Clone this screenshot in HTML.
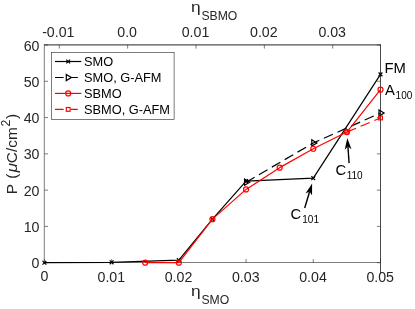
<!DOCTYPE html>
<html><head><meta charset="utf-8"><style>
html,body{margin:0;padding:0;background:#fff;}
svg{display:block;will-change:transform;}
text{font-family:"Liberation Sans",sans-serif;fill:#262626;}
.tk{font-size:14.2px;}
.lg{font-size:12.8px;fill:#000;}
.ax{font-size:15.4px;}
.sup{font-size:12.2px;}
.eta{font-size:13.9px;}
.sub{font-size:12.2px;}
.an{font-size:14.8px;fill:#000;}
.ans{font-size:10px;fill:#000;}
</style></head><body>
<svg width="415" height="309" viewBox="0 0 415 309">
<rect width="415" height="309" fill="#fff"/>
<line x1="44.3" y1="44.7" x2="44.3" y2="263.0" stroke="#262626" stroke-width="0.6"/>
<line x1="44.0" y1="262.5" x2="380.5" y2="262.5" stroke="#262626" stroke-width="0.6"/>
<line x1="44.0" y1="44.85" x2="380.8" y2="44.85" stroke="#505050" stroke-width="1.2"/>
<line x1="380.5" y1="44.5" x2="380.5" y2="274" stroke="#1c1c1c" stroke-width="0.8"/>
<line x1="44.40" y1="262.7" x2="44.40" y2="259.10" stroke="#262626" stroke-width="0.6"/>
<text x="44.40" y="281.4" text-anchor="middle" class="tk">0</text>
<line x1="111.62" y1="262.7" x2="111.62" y2="259.10" stroke="#262626" stroke-width="0.6"/>
<text x="111.32" y="281.7" text-anchor="middle" class="tk">0.01</text>
<line x1="178.84" y1="262.7" x2="178.84" y2="259.10" stroke="#262626" stroke-width="0.6"/>
<text x="178.54" y="281.7" text-anchor="middle" class="tk">0.02</text>
<line x1="246.06" y1="262.7" x2="246.06" y2="259.10" stroke="#262626" stroke-width="0.6"/>
<text x="245.76" y="281.7" text-anchor="middle" class="tk">0.03</text>
<line x1="313.28" y1="262.7" x2="313.28" y2="259.10" stroke="#262626" stroke-width="0.6"/>
<text x="312.98" y="281.7" text-anchor="middle" class="tk">0.04</text>
<line x1="380.50" y1="262.7" x2="380.50" y2="259.10" stroke="#262626" stroke-width="0.6"/>
<text x="380.20" y="281.7" text-anchor="middle" class="tk">0.05</text>
<line x1="59.30" y1="45.0" x2="59.30" y2="48.60" stroke="#262626" stroke-width="0.6"/>
<text x="58.30" y="37.3" text-anchor="middle" class="tk">-0.01</text>
<line x1="127.65" y1="45.0" x2="127.65" y2="48.60" stroke="#262626" stroke-width="0.6"/>
<text x="127.15" y="37.3" text-anchor="middle" class="tk">0.0</text>
<line x1="196.00" y1="45.0" x2="196.00" y2="48.60" stroke="#262626" stroke-width="0.6"/>
<text x="195.50" y="37.3" text-anchor="middle" class="tk">0.01</text>
<line x1="264.35" y1="45.0" x2="264.35" y2="48.60" stroke="#262626" stroke-width="0.6"/>
<text x="263.85" y="37.3" text-anchor="middle" class="tk">0.02</text>
<line x1="332.70" y1="45.0" x2="332.70" y2="48.60" stroke="#262626" stroke-width="0.6"/>
<text x="332.20" y="37.3" text-anchor="middle" class="tk">0.03</text>
<line x1="44.4" y1="262.70" x2="48.00" y2="262.70" stroke="#262626" stroke-width="0.6"/>
<line x1="380.5" y1="262.70" x2="376.90" y2="262.70" stroke="#262626" stroke-width="0.6"/>
<text x="39.5" y="267.80" text-anchor="end" class="tk">0</text>
<line x1="44.4" y1="226.42" x2="48.00" y2="226.42" stroke="#262626" stroke-width="0.6"/>
<line x1="380.5" y1="226.42" x2="376.90" y2="226.42" stroke="#262626" stroke-width="0.6"/>
<text x="39.5" y="231.92" text-anchor="end" class="tk">10</text>
<line x1="44.4" y1="190.13" x2="48.00" y2="190.13" stroke="#262626" stroke-width="0.6"/>
<line x1="380.5" y1="190.13" x2="376.90" y2="190.13" stroke="#262626" stroke-width="0.6"/>
<text x="39.5" y="195.63" text-anchor="end" class="tk">20</text>
<line x1="44.4" y1="153.85" x2="48.00" y2="153.85" stroke="#262626" stroke-width="0.6"/>
<line x1="380.5" y1="153.85" x2="376.90" y2="153.85" stroke="#262626" stroke-width="0.6"/>
<text x="39.5" y="159.00" text-anchor="end" class="tk">30</text>
<line x1="44.4" y1="117.57" x2="48.00" y2="117.57" stroke="#262626" stroke-width="0.6"/>
<line x1="380.5" y1="117.57" x2="376.90" y2="117.57" stroke="#262626" stroke-width="0.6"/>
<text x="39.5" y="122.87" text-anchor="end" class="tk">40</text>
<line x1="44.4" y1="81.28" x2="48.00" y2="81.28" stroke="#262626" stroke-width="0.6"/>
<line x1="380.5" y1="81.28" x2="376.90" y2="81.28" stroke="#262626" stroke-width="0.6"/>
<text x="39.5" y="86.98" text-anchor="end" class="tk">50</text>
<line x1="44.4" y1="45.00" x2="48.00" y2="45.00" stroke="#262626" stroke-width="0.6"/>
<line x1="380.5" y1="45.00" x2="376.90" y2="45.00" stroke="#262626" stroke-width="0.6"/>
<text x="39.5" y="50.80" text-anchor="end" class="tk">60</text>
<polyline points="44.40,262.70 111.62,262.34 178.84,260.16 212.45,219.16 246.06,181.06 313.28,178.16 380.50,74.39" fill="none" stroke="#000" stroke-width="1.2" stroke-linejoin="round"/>
<path d="M42.50,260.80L46.30,264.60M42.50,264.60L46.30,260.80" stroke="#000" stroke-width="1.2" fill="none"/>
<path d="M109.72,260.44L113.52,264.24M109.72,264.24L113.52,260.44" stroke="#000" stroke-width="1.2" fill="none"/>
<path d="M176.94,258.26L180.74,262.06M176.94,262.06L180.74,258.26" stroke="#000" stroke-width="1.2" fill="none"/>
<path d="M210.55,217.26L214.35,221.06M210.55,221.06L214.35,217.26" stroke="#000" stroke-width="1.2" fill="none"/>
<path d="M244.16,179.16L247.96,182.96M244.16,182.96L247.96,179.16" stroke="#000" stroke-width="1.2" fill="none"/>
<path d="M311.38,176.26L315.18,180.06M311.38,180.06L315.18,176.26" stroke="#000" stroke-width="1.2" fill="none"/>
<path d="M378.60,72.49L382.40,76.29M378.60,76.29L382.40,72.49" stroke="#000" stroke-width="1.2" fill="none"/>
<polyline points="246.06,182.15 313.28,142.96 380.50,113.03" fill="none" stroke="#000" stroke-width="1.2" stroke-dasharray="9.9,5.0"/>
<path d="M244.56,179.05L249.66,182.15L244.56,185.25Z" stroke="#000" stroke-width="1.2" fill="none"/>
<path d="M311.78,139.86L316.88,142.96L311.78,146.06Z" stroke="#000" stroke-width="1.2" fill="none"/>
<path d="M379.00,109.93L384.10,113.03L379.00,116.13Z" stroke="#000" stroke-width="1.2" fill="none"/>
<polyline points="145.23,262.70 178.84,262.70 212.45,219.16 246.06,189.41 279.67,167.64 313.28,148.77 346.89,132.08 380.50,89.63" fill="none" stroke="#f00" stroke-width="1.2" stroke-linejoin="round"/>
<circle cx="145.23" cy="262.70" r="2.5" stroke="#f00" stroke-width="1.2" fill="none"/>
<circle cx="178.84" cy="262.70" r="2.5" stroke="#f00" stroke-width="1.2" fill="none"/>
<circle cx="212.45" cy="219.16" r="2.5" stroke="#f00" stroke-width="1.2" fill="none"/>
<circle cx="246.06" cy="189.41" r="2.5" stroke="#f00" stroke-width="1.2" fill="none"/>
<circle cx="279.67" cy="167.64" r="2.5" stroke="#f00" stroke-width="1.2" fill="none"/>
<circle cx="313.28" cy="148.77" r="2.5" stroke="#f00" stroke-width="1.2" fill="none"/>
<circle cx="346.89" cy="132.08" r="2.5" stroke="#f00" stroke-width="1.2" fill="none"/>
<circle cx="380.50" cy="89.63" r="2.5" stroke="#f00" stroke-width="1.2" fill="none"/>
<polyline points="346.89,132.08 380.50,117.93" fill="none" stroke="#f00" stroke-width="1.2" stroke-dasharray="9.9,5.0"/>
<rect x="344.99" y="130.18" width="3.8" height="3.8" stroke="#f00" stroke-width="1.15" fill="none"/>
<rect x="378.60" y="116.03" width="3.8" height="3.8" stroke="#f00" stroke-width="1.15" fill="none"/>
<rect x="51.4" y="52.3" width="122.70" height="67.30" fill="#fff" stroke="#262626" stroke-width="0.6"/>
<line x1="55" y1="61.5" x2="81.3" y2="61.5" stroke="#000" stroke-width="1.2"/>
<path d="M66.30,59.60L70.10,63.40M66.30,63.40L70.10,59.60" stroke="#000" stroke-width="1.2" fill="none"/>
<text x="84.0" y="66.3" class="lg">SMO</text>
<path d="M55,77.5H63.6M70.8,77.5H77.8" stroke="#000" stroke-width="1.2" fill="none"/>
<path d="M66.30,74.40L71.40,77.50L66.30,80.60Z" stroke="#000" stroke-width="1.2" fill="none"/>
<text x="84.0" y="82.4" class="lg">SMO, G-AFM</text>
<line x1="55" y1="93.4" x2="81.3" y2="93.4" stroke="#f00" stroke-width="1.2"/>
<circle cx="68.20" cy="93.40" r="2.5" stroke="#f00" stroke-width="1.2" fill="none"/>
<text x="84.0" y="98.0" class="lg">SBMO</text>
<path d="M55,109.4H63.6M70.8,109.4H77.8" stroke="#f00" stroke-width="1.2" fill="none"/>
<rect x="66.30" y="107.50" width="3.8" height="3.8" stroke="#f00" stroke-width="1.15" fill="none"/>
<text x="84.0" y="113.7" class="lg">SBMO, G-AFM</text>
<text transform="translate(191.0,295.8) scale(1.25,1)" class="eta">η</text><text x="201.4" y="304" class="sub">SMO</text>
<text transform="translate(191.0,11.9) scale(1.25,1)" class="eta">η</text><text x="201.4" y="19.8" class="sub">SBMO</text>
<text transform="translate(17.3,194.30) rotate(-90)" class="ax">P</text>
<text transform="translate(17.3,178.80) rotate(-90)" class="ax">(</text>
<text transform="translate(17.3,172.40) rotate(-90) scale(1.12,1)" class="ax" font-style="italic">μ</text>
<text transform="translate(17.3,163.20) rotate(-90)" class="ax">C/cm</text>
<text transform="translate(10.1,126.40) rotate(-90)" class="sup">2</text>
<text transform="translate(17.3,118.90) rotate(-90)" class="ax">)</text>
<text x="384.4" y="72.7" class="an">FM</text>
<text x="385.0" y="95.0" class="an">A</text><text x="395.6" y="98.7" class="ans">100</text>
<text x="335.5" y="175.2" class="an">C</text><text x="346.7" y="178.9" class="ans">110</text>
<text x="290.5" y="219.1" class="an">C</text><text x="302.3" y="222.8" class="ans">101</text>
<line x1="349.1" y1="163.1" x2="347.91" y2="146.48" stroke="#000" stroke-width="1.4"/><path d="M347.30,138.00L351.51,149.23L347.91,146.48L344.73,149.71Z" fill="#000"/>
<line x1="304.7" y1="208.0" x2="309.65" y2="191.54" stroke="#000" stroke-width="1.4"/><path d="M312.10,183.40L312.04,195.39L309.65,191.54L305.53,193.43Z" fill="#000"/>
</svg>
</body></html>
